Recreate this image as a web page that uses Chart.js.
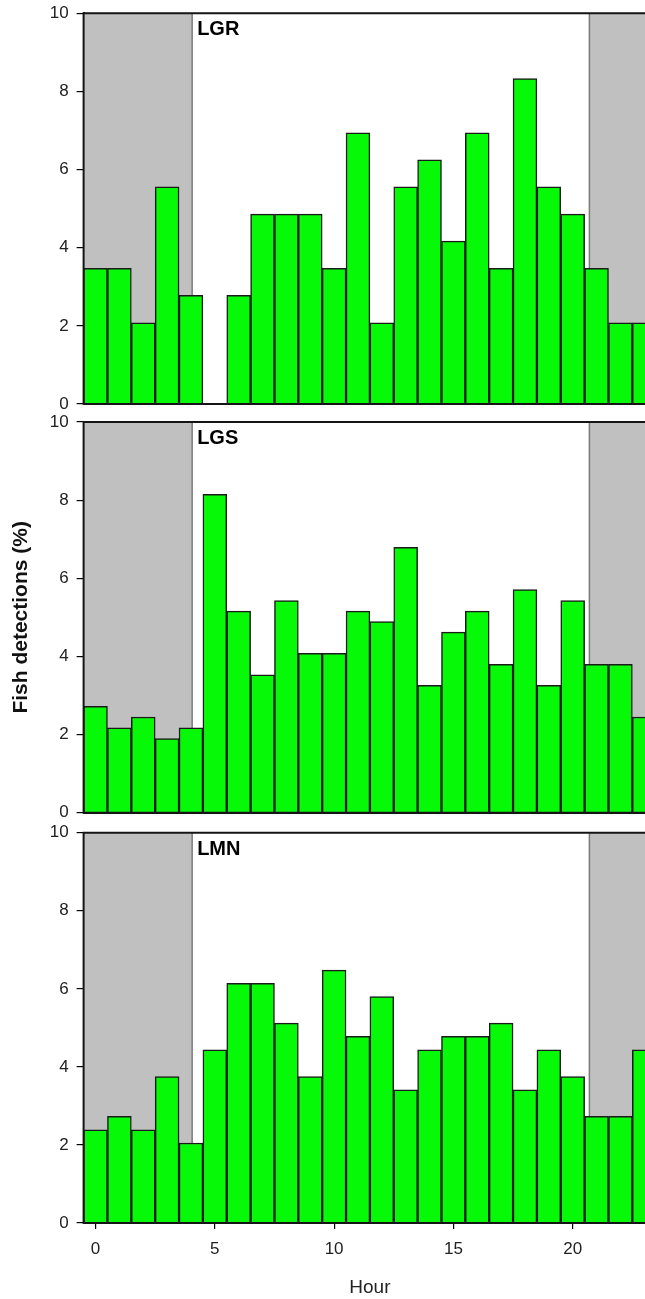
<!DOCTYPE html>
<html>
<head>
<meta charset="utf-8">
<script src="https://cdn.jsdelivr.net/npm/chart.js@4.4.0/dist/chart.umd.min.js"></script>
<style>
  html, body { margin: 0; padding: 0; background: #fff; overflow: hidden; }
  #wrap { position: relative; width: 645px; height: 1299px; overflow: hidden; }
  .panel { position: absolute; left: 0; width: 660px; }
</style>
</head>
<body>
<div id="wrap">
  <div class="panel" style="top:0;height:416px"><canvas id="c1"></canvas></div>
  <div class="panel" style="top:404px;height:420px"><canvas id="c2"></canvas></div>
  <div class="panel" style="top:818px;height:481px"><canvas id="c3"></canvas></div>
</div>
<script>
// hourly share of detections per site
const hours = [0, 1, 2, 3, 4, 5, 6, 7, 8, 9, 10, 11, 12, 13, 14, 15, 16, 17, 18, 19, 20, 21, 22, 23];
const lgr = [3.47, 3.47, 2.08, 5.56, 2.78, 0, 2.78, 4.86, 4.86, 4.86, 3.47, 6.94, 2.08, 5.56, 6.25, 4.17, 6.94, 3.47, 8.33, 5.56, 4.86, 3.47, 2.08, 2.08];
const lgs = [2.72, 2.17, 2.45, 1.90, 2.17, 8.15, 5.16, 3.53, 5.43, 4.08, 4.08, 5.16, 4.89, 6.79, 3.26, 4.62, 5.16, 3.80, 5.71, 3.26, 5.43, 3.80, 3.80, 2.45];
const lmn = [2.39, 2.73, 2.39, 3.75, 2.05, 4.44, 6.14, 6.14, 5.12, 3.75, 6.48, 4.78, 5.80, 3.41, 4.44, 4.78, 4.78, 5.12, 3.41, 4.44, 3.75, 2.73, 2.73, 4.44];

const hourTicks = [0, 5, 10, 15, 20];
const pctTicks = [0, 2, 4, 6, 8, 10];
// dark hours (shaded), in hour units
const nightSpans = [[-0.5, 4.05], [20.7, 23.5]];

const FONT = '"Liberation Sans", Arial, sans-serif';

const nightPlugin = {
  id: 'night',
  beforeDatasetsDraw(chart, args, opts) {
    const { ctx, chartArea: a, scales: { x } } = chart;
    ctx.save();
    nightSpans.forEach(([s, e]) => {
      const x0 = Math.max(x.getPixelForValue(s), a.left);
      const x1 = Math.min(x.getPixelForValue(e), a.right);
      ctx.fillStyle = '#c0c0c0';
      ctx.fillRect(x0, a.top, x1 - x0, a.bottom - a.top);
      ctx.strokeStyle = '#7a7a7a';
      ctx.lineWidth = 1.5;
      ctx.beginPath();
      if (x0 > a.left + 1) { ctx.moveTo(x0, a.top); ctx.lineTo(x0, a.bottom); }
      if (x1 < a.right - 1) { ctx.moveTo(x1, a.top); ctx.lineTo(x1, a.bottom); }
      ctx.stroke();
    });
    ctx.restore();
  },
  afterDraw(chart, args, opts) {
    const { ctx, chartArea: a, scales: { x } } = chart;
    ctx.save();
    // frame: top, left axis, bottom axis
    ctx.strokeStyle = '#151515';
    ctx.lineWidth = 2;
    ctx.beginPath();
    ctx.moveTo(a.right, a.top);
    ctx.lineTo(a.left, a.top);
    ctx.lineTo(a.left, a.bottom);
    ctx.lineTo(a.right, a.bottom);
    ctx.stroke();
    // site name
    ctx.fillStyle = '#000';
    ctx.font = 'bold 20px ' + FONT;
    ctx.textBaseline = 'alphabetic';
    ctx.fillText(opts.label, x.getPixelForValue(nightSpans[0][1]) + 5, a.top + 22);
    ctx.restore();
  }
};

function makeChart(id, values, site, cfg) {
  return new Chart(document.getElementById(id), {
    type: 'bar',
    data: {
      datasets: [{
        data: hours.map((h, i) => ({ x: h, y: values[i] })),
        backgroundColor: '#06f906',
        borderColor: '#1a1a1a',
        borderWidth: 1.5,
        barPercentage: 1,
        categoryPercentage: 1
      }]
    },
    options: {
      responsive: true,
      maintainAspectRatio: false,
      animation: false,
      layout: { padding: { top: cfg.padTop, right: 3.8, bottom: 0, left: 0 } },
      plugins: {
        legend: { display: false },
        tooltip: { enabled: false },
        night: { label: site }
      },
      scales: {
        x: {
          type: 'linear',
          min: -0.5,
          max: 23.5,
          offset: false,
          afterBuildTicks: s => { s.ticks = hourTicks.map(v => ({ value: v })); },
          afterFit: s => { s.height = cfg.xHeight; s.paddingLeft = 0; s.paddingRight = 0; },
          grid: { display: cfg.showX, offset: false, drawOnChartArea: false, tickLength: 6, color: '#000', lineWidth: 1.2 },
          border: { display: true, color: '#111', width: 2 },
          ticks: { display: cfg.showX, padding: 10, color: '#222', font: { size: 17, family: FONT } },
          title: { display: cfg.showX, text: 'Hour', color: '#222', font: { size: 19, family: FONT }, padding: { top: 14, bottom: 0 } }
        },
        y: {
          min: 0,
          max: 10,
          afterBuildTicks: s => { s.ticks = pctTicks.map(v => ({ value: v })); },
          afterFit: s => { s.width = 83.6; s.paddingTop = 0; s.paddingBottom = 0; },
          grid: { drawOnChartArea: false, tickLength: 7, color: '#000', lineWidth: 1.2 },
          border: { color: '#111', width: 2 },
          ticks: { padding: 8, color: '#222', font: { size: 17, family: FONT } },
          title: { display: cfg.showYTitle, text: 'Fish detections (%)', color: '#111', font: { size: 21, weight: 'bold', family: FONT }, padding: { top: 9, bottom: 0 } }
        }
      }
    },
    plugins: [nightPlugin]
  });
}

makeChart('c1', lgr, 'LGR', { padTop: 13.3, xHeight: 12, showX: false, showYTitle: false });
makeChart('c2', lgs, 'LGS', { padTop: 18, xHeight: 11.3, showX: false, showYTitle: true });
makeChart('c3', lmn, 'LMN', { padTop: 14.7, xHeight: 76, showX: true, showYTitle: false });
</script>
</body>
</html>
